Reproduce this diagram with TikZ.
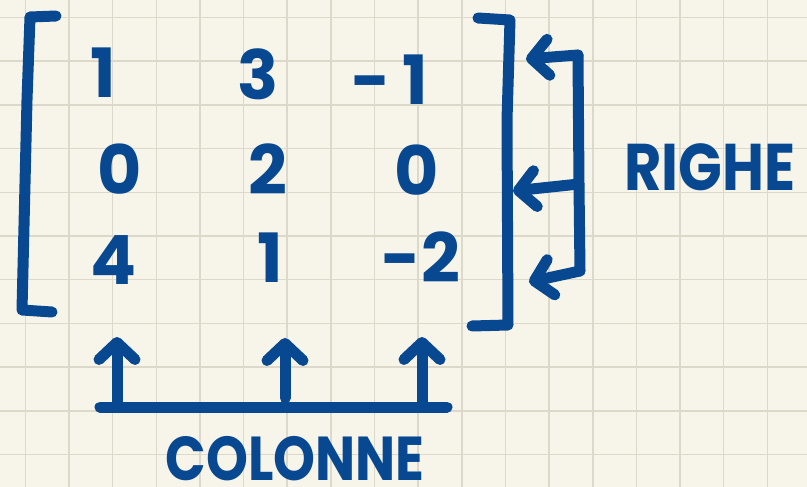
\documentclass[tikz,border=0pt]{standalone}
\usepackage{fontspec}
\setmainfont{Poppins}
\usetikzlibrary{arrows.meta}
\definecolor{ink}{RGB}{8,72,145}
\definecolor{paper}{RGB}{247,245,234}
\definecolor{gridc}{RGB}{220,217,203}
\begin{document}
\begin{tikzpicture}[x=1pt,y=-1pt,
  pen/.style={draw=ink, line width=11pt, line cap=round, line join=round},
  tip/.style={-{Straight Barb[length=17pt,width=36pt,round]}},
  num/.style={text=ink, inner sep=0pt, font=\fontsize{68}{68}\selectfont\bfseries},
  lbl/.style={text=ink, inner sep=0pt, font=\fontsize{66}{66}\selectfont\bfseries}]
\fill[paper] (0,0) rectangle (807,487);
\useasboundingbox (0,0) rectangle (807,487);
\foreach \i in {0,...,17} \draw[gridc, line width=1.5pt] ({25.3+43.65*\i},0) -- ({25.3+43.65*\i},487);
\foreach \j in {0,...,10} \draw[gridc, line width=1.5pt] (0,{17.5+43.7*\j}) -- (807,{17.5+43.7*\j});
% entries
\node[num] (m11) at (103,73) {1};
\node[num] (m12) at (258,74) {3};
\node[num] (m13) at (390,80) {-\,1};
\node[num] (m21) at (120,169) {0};
\node[num] (m22) at (268,169) {2};
\node[num] (m23) at (417,170) {0};
\node[num] (m31) at (114,260) {4};
\node[num] (m32) at (270,258) {1};
\node[num] (m33) at (421,257) {-2};
% brackets
\draw[pen] (56,16) -- (30,17) -- (27,100) -- (22,310) -- (52,312);
\draw[pen] (478,18) -- (510,20) -- (507,120) -- (508,325) -- (472,326);
% rows
\node[lbl, xscale=0.87, transform shape] (righe) at (710,167) {RIGHE};
\coordinate (r1) at (578,55);
\coordinate (r2) at (579,184);
\coordinate (r3) at (580,271);
\coordinate (t1) at (526,59);
\coordinate (t2) at (513,191);
\coordinate (t3) at (529,282);
\draw[pen] (r1) -- (r2) -- (r3);
\draw[pen, tip] (r1) -- (t1);
\draw[pen, tip] (r2) -- (t2);
\draw[pen, tip] (r3) -- (t3);
% columns
\node[lbl, font=\fontsize{62}{62}\selectfont\bfseries, xscale=0.86, transform shape] (colonne) at (295,459) {COLONNE};
\coordinate (hL) at (100,407);
\coordinate (hR) at (447,407);
\coordinate (b1) at (117,404);
\coordinate (b2) at (285,398);
\coordinate (b3) at (422,404);
\coordinate (c1) at (117,337);
\coordinate (c2) at (285,338);
\coordinate (c3) at (422,337);
\draw[pen] (hL) -- (hR);
\draw[pen, tip] (b1) -- (c1);
\draw[pen, tip] (b2) -- (c2);
\draw[pen, tip] (b3) -- (c3);
\end{tikzpicture}
\end{document}
